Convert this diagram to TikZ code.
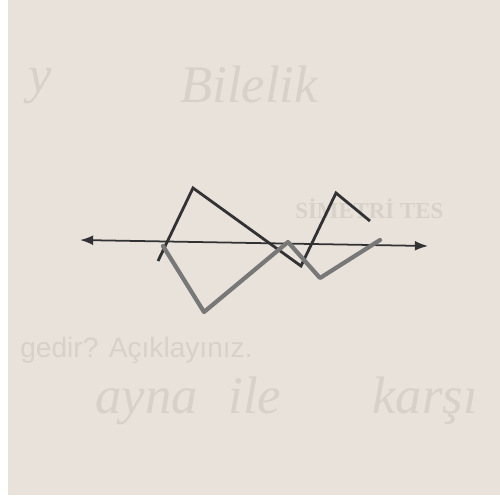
\documentclass[tikz,border=0pt]{standalone}
\usepackage{fontspec}
\setmainfont{Liberation Serif}
\newfontfamily\printsans{Liberation Sans}
\usetikzlibrary{arrows.meta}
\definecolor{paper}{RGB}{232,226,218}
\definecolor{ghost}{RGB}{215,209,201}
\definecolor{ink}{RGB}{50,50,52}
\definecolor{pencil}{RGB}{120,120,120}

\begin{document}
\begin{tikzpicture}[x=0.02cm, y=-0.02cm, >=Latex,
  ghosttext/.style={text=ghost, inner sep=0pt, anchor=base west},
  hand/.style={ghosttext, font=\itshape\fontsize{30}{30}\selectfont},
  original/.style={ink, line width=1.6pt, line join=miter},
  mirror/.style={pencil, line width=2.4pt, line join=round, line cap=round}]
% sayfa
\fill[white] (0,0) rectangle (500,495);
\fill[paper] (8,0) rectangle (500,495);
\useasboundingbox (0,0) rectangle (500,495);
% arka yuzden gecen yazilar
\node[hand] (harf) at (28,92) {y};
\node[hand] (bilelik) at (180,102) {Bilelik};
\node[ghosttext, font=\bfseries\fontsize{13}{13}\selectfont] (baslik) at (295,218) {SİMETRİ TES};
\node[ghosttext, font=\printsans\fontsize{16}{16}\selectfont] (soru) at (20,357) {gedir? Açıklayınız.};
\node[hand] (ayna) at (95,413) {ayna};
\node[hand] (ile) at (228,413) {ile};
\node[hand] (karsi) at (372,413) {karşı};
% simetri ekseni
\coordinate (solok) at (80,240);
\coordinate (sagok) at (428,246);
\draw[<->, ink, line width=1pt] (solok) -- (sagok);
% ilk sekil
\coordinate (a1) at (158,261); \coordinate (a2) at (193,188);
\coordinate (a3) at (301,266); \coordinate (a4) at (336,193);
\coordinate (a5) at (370,221);
\draw[original] (a1) -- (a2) -- (a3) -- (a4) -- (a5);
% goruntu
\coordinate (b1) at (163,246); \coordinate (b2) at (204,312);
\coordinate (b3) at (288,242); \coordinate (b4) at (320,278);
\coordinate (b5) at (380,240);
\draw[mirror] (b1) -- (b2) -- (b3) -- (b4) -- (b5);
\end{tikzpicture}
\end{document}
